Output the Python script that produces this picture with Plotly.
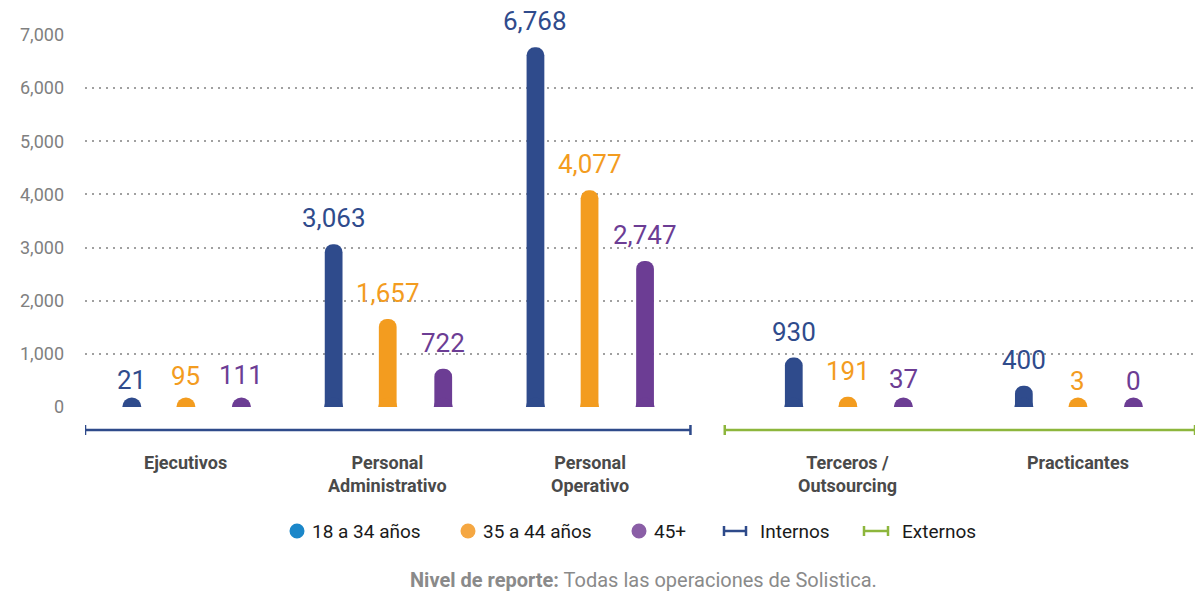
import plotly.graph_objects as go

# ---- data ----
categories = ["Ejecutivos", "Personal<br>Administrativo", "Personal<br>Operativo",
              "Terceros /<br>Outsourcing", "Practicantes"]
series_names = ["18 a 34 años", "35 a 44 años", "45+"]
s18_34 = [21, 3063, 6768, 930, 400]
s35_44 = [95, 1657, 4077, 191, 3]
s45 = [111, 722, 2747, 37, 0]
y_ticks = [0, 1000, 2000, 3000, 4000, 5000, 6000, 7000]
group_names = ["Internos", "Externos"]
footnote_bold = "Nivel de reporte:"
footnote_text = "Todas las operaciones de Solistica."

# ---- layout / style ----
W, H = 1198, 591
ML, MR, MT, MB = 85, 3, 35, 184
PW, PH = W - ML - MR, H - MT - MB
cat_x = [0.5, 1.5, 2.5, 3.78, 4.92]
offsets = [-0.268, 0.0, 0.275]
bar_w = 0.088
bar_colors = ["#2f4b8c", "#f39c1f", "#6c3d94"]
legend_colors = ["#1b87c9", "#f5a742", "#8a5ea6"]
group_spans = [(0.0, 3.0), (3.17, 5.5)]
group_colors = ["#2e4a8a", "#8db63c"]
FONT = "Roboto"


def px_x(px):
    return (px - ML) / PW


def px_y(py):
    return (H - MB - py) / PH


fig = go.Figure()
series = [s18_34, s35_44, s45]
for i, vals in enumerate(series):
    xs = [c + offsets[i] for c in cat_x]
    fig.add_trace(go.Bar(x=xs, y=vals, width=bar_w, name=series_names[i],
                         marker=dict(color=bar_colors[i], line_width=0),
                         showlegend=False, hoverinfo="y"))
    # rounded base caps
    fig.add_trace(go.Scatter(x=xs, y=[0] * len(xs), mode="markers", cliponaxis=True,
                             marker=dict(size=19, color=bar_colors[i]), showlegend=False,
                             hoverinfo="skip"))
    for x, v in zip(xs, vals):
        fig.add_annotation(x=x, y=v, text=f"{v:,}", showarrow=False, yanchor="bottom", yshift=9,
                           font=dict(family=FONT, size=26, color=bar_colors[i]))

# group brackets
br_y = px_y(430)
tick_h = 5 / PH
for (x0, x1), col in zip(group_spans, group_colors):
    fig.add_shape(type="line", xref="x", yref="paper", x0=x0, x1=x1, y0=br_y, y1=br_y,
                  line=dict(color=col, width=2.5))
    for xe in (x0, x1):
        fig.add_shape(type="line", xref="x", yref="paper", x0=xe, x1=xe,
                      y0=br_y - tick_h, y1=br_y + tick_h, line=dict(color=col, width=2.5))

# category labels
for x, c in zip(cat_x, categories):
    fig.add_annotation(x=x, y=0, xref="x", yref="paper", yanchor="top", yshift=-43,
                       text=f"<b>{c}</b>", showarrow=False,
                       font=dict(family=FONT, size=18, color="#4a4a4a"))

# manual legend
leg_y = px_y(531)
circle_px = [297, 468, 639]
for cx, name, col in zip(circle_px, series_names, legend_colors):
    fig.add_shape(type="circle", xref="paper", yref="paper", xsizemode="pixel", ysizemode="pixel",
                  xanchor=px_x(cx), yanchor=leg_y, x0=-7.5, x1=7.5, y0=-7.5, y1=7.5,
                  fillcolor=col, line_width=0)
    fig.add_annotation(x=px_x(cx + 13), y=leg_y, xref="paper", yref="paper", xanchor="left",
                       yanchor="middle", showarrow=False, text=name,
                       font=dict(family=FONT, size=19, color="#1a1a1a"))
bracket_px = [(724, 746), (864, 888)]
for (bx0, bx1), name, col in zip(bracket_px, group_names, group_colors):
    fig.add_shape(type="line", xref="paper", yref="paper", x0=px_x(bx0), x1=px_x(bx1),
                  y0=leg_y, y1=leg_y, line=dict(color=col, width=2.5))
    for bx in (bx0, bx1):
        fig.add_shape(type="line", xref="paper", yref="paper", x0=px_x(bx), x1=px_x(bx),
                      y0=leg_y - 5 / PH, y1=leg_y + 5 / PH, line=dict(color=col, width=2.5))
    fig.add_annotation(x=px_x(bx1 + 12), y=leg_y, xref="paper", yref="paper", xanchor="left",
                       yanchor="middle", showarrow=False, text=name,
                       font=dict(family=FONT, size=19, color="#1a1a1a"))

# footnote
fig.add_annotation(x=px_x(643), y=px_y(580), xref="paper", yref="paper", showarrow=False,
                   xanchor="center", yanchor="middle",
                   text=f"<b>{footnote_bold}</b> {footnote_text}",
                   font=dict(family=FONT, size=20, color="#8a8a8a"))

fig.update_layout(
    width=W, height=H,
    margin=dict(l=ML, r=MR, t=MT, b=MB, autoexpand=False),
    plot_bgcolor="white", paper_bgcolor="white",
    barmode="overlay", barcornerradius=9,
    font=dict(family=FONT),
    showlegend=False,
    xaxis=dict(range=[0, 5.5], showgrid=False, zeroline=False, showticklabels=False,
               showline=False, fixedrange=True),
    yaxis=dict(range=[0, 7000], tickvals=y_ticks, tickformat=",", showgrid=True,
               gridcolor="#a0a0a0", griddash="2px,5px", gridwidth=1.5, zeroline=False,
               showline=False, ticks="", ticklabelstandoff=20,
               tickfont=dict(family=FONT, size=18, color="#808080")),
)

fig.write_html("out.html", config={"displayModeBar": False},
               post_script="document.body.style.margin='0';")
